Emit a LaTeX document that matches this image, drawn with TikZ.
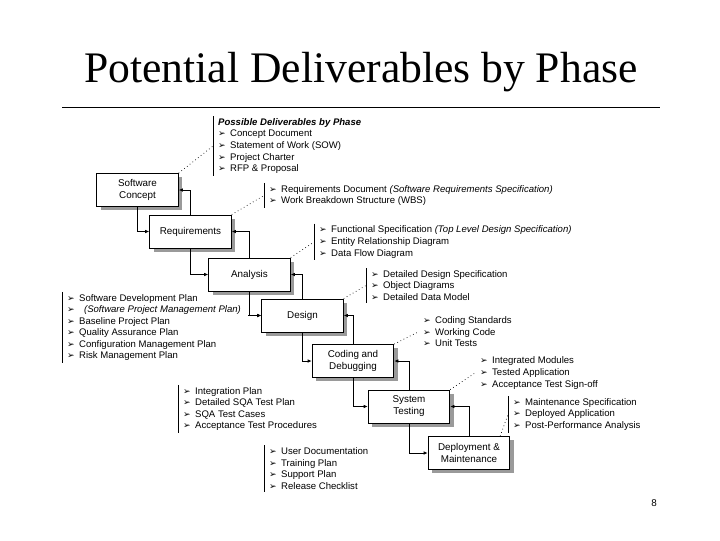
\documentclass[tikz,border=0pt]{standalone}
\usepackage{fontspec}
\setmainfont{Liberation Serif}
\setsansfont{Liberation Sans}
\newfontfamily\symfont{DejaVu Sans}
\usepackage{tikz}
\usetikzlibrary{arrows.meta,shadows,calc}
\definecolor{shade}{HTML}{9A9A9A}
\newcommand{\blt}{\makebox[8.5pt][l]{\symfont\fontsize{6.4}{8.2}\selectfont ➢}}
\newcommand{\itm}[1]{\blt#1}

\begin{document}
\begin{tikzpicture}[x=0.025cm,y=-0.025cm,>={Latex[length=3pt,width=2.6pt]},
  phase/.style={draw,fill=white,line width=0.6pt,align=center,
    minimum width=58pt,minimum height=23.5pt,inner sep=1pt,
    font=\sffamily\fontsize{7}{8.6}\selectfont,
    drop shadow={shadow xshift=2.8pt,shadow yshift=-2.8pt,fill=shade,opacity=1}},
  lst/.style={anchor=west,align=left,inner xsep=3.5pt,inner ysep=1.5pt,
    font=\sffamily\fontsize{6.8}{8.2}\selectfont},
  flow/.style={->,line width=0.6pt},
  bar/.style={line width=0.6pt},
  dots/.style={dotted,line width=0.5pt}]
\useasboundingbox (0,0) rectangle (720,540);

% title
\node[font=\fontsize{31}{36}\selectfont] (title) at (361,72) {Potential Deliverables by Phase};
\draw[line width=0.6pt] (62,107) -- (660,107);

% phases
\node[phase] (concept) at (137.5,190) {Software\\Concept};
\node[phase] (req) at (190.5,231.5) {Requirements};
\node[phase] (ana) at (249.5,274.5) {Analysis};
\node[phase] (des) at (302.5,315.5) {Design};
\node[phase] (code) at (353,361) {Coding and\\Debugging};
\node[phase] (sys) at (409,406.5) {System\\Testing};
\node[phase] (dep) at (469,453) {Deployment \&\\Maintenance};

% forward and feedback connectors
\foreach \a/\b in {concept/req,req/ana,ana/des,des/code,code/sys,sys/dep}{
  \draw[flow] (\a.south) |- (\b.west);
  \draw[flow] (\b.north) |- (\a.east);
}

% deliverables
\node[lst] (lstA) at (213,146) {\textbf{\textit{Possible Deliverables by Phase}}\\
  \itm{Concept Document}\\ \itm{Statement of Work (SOW)}\\
  \itm{Project Charter}\\ \itm{RFP \& Proposal}};
\node[lst] (lstB) at (264,195.5) {\itm{Requirements Document \textit{(Software Requirements Specification)}}\\
  \itm{Work Breakdown Structure (WBS)}};
\node[lst] (lstC) at (314,242) {\itm{Functional Specification \textit{(Top Level Design Specification)}}\\
  \itm{Entity Relationship Diagram}\\ \itm{Data Flow Diagram}};
\node[lst] (lstD) at (366,285.5) {\itm{Detailed Design Specification}\\
  \itm{Object Diagrams}\\ \itm{Detailed Data Model}};
\node[lst] (lstE) at (418,332) {\itm{Coding Standards}\\
  \itm{Working Code}\\ \itm{Unit Tests}};
\node[lst] (lstF) at (475,373) {\itm{Integrated Modules}\\
  \itm{Tested Application}\\ \itm{Acceptance Test Sign-off}};
\node[lst] (lstG) at (508,414.5) {\itm{Maintenance Specification}\\
  \itm{Deployed Application}\\ \itm{Post-Performance Analysis}};
\node[lst] (lstH) at (62,327.5) {\itm{Software Development Plan}\\
  \itm{\hspace{3.5pt}\textit{(Software Project Management Plan)}}\\
  \itm{Baseline Project Plan}\\ \itm{Quality Assurance Plan}\\
  \itm{Configuration Management Plan}\\ \itm{Risk Management Plan}};
\node[lst] (lstI) at (178,409) {\itm{Integration Plan}\\
  \itm{Detailed SQA Test Plan}\\ \itm{SQA Test Cases}\\
  \itm{Acceptance Test Procedures}};
\node[lst] (lstJ) at (264,468.5) {\itm{User Documentation}\\
  \itm{Training Plan}\\ \itm{Support Plan}\\ \itm{Release Checklist}};
\foreach \l in {lstA,lstB,lstC,lstD,lstG,lstH,lstI,lstJ}
  \draw[bar] (\l.north west) -- (\l.south west);

% dotted links from phases to their deliverables
\foreach \p/\l in {concept/lstA,req/lstB,ana/lstC,des/lstD,code/lstE,sys/lstF}
  \draw[dots] (\p.north east) -- (\l.west);
\draw[dots] ($(dep.north east)+(-10,0)$) -- (lstG.west);

% plans feeding design
\coordinate (planout) at (248,315.5);
\draw[flow] (planout) -- (des.west);

\node[font=\sffamily\fontsize{7}{8}\selectfont] (pnum) at (654,503) {8};
\end{tikzpicture}
\end{document}
